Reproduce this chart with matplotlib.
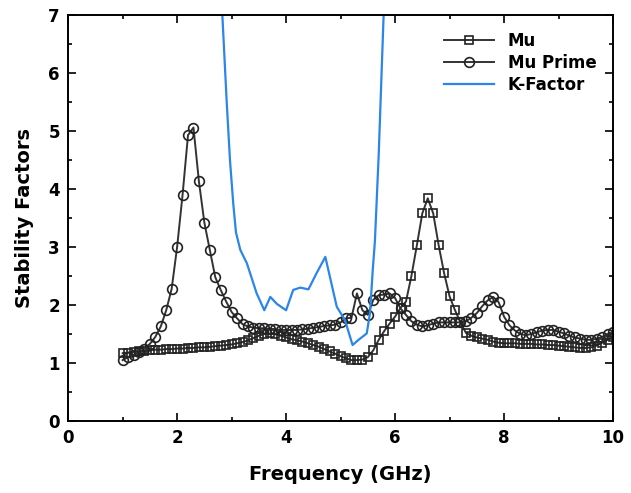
import matplotlib
matplotlib.use("Agg")
import matplotlib.pyplot as plt
import numpy as np
from matplotlib.ticker import MultipleLocator

# frequency grid of the Mu / Mu Prime sweeps (GHz)
freq = np.round(np.arange(1.0, 10.05, 0.1), 1)

mu = [1.17, 1.18, 1.19, 1.20, 1.21, 1.22, 1.23, 1.23, 1.24, 1.24,
      1.25, 1.25, 1.26, 1.26, 1.27, 1.27, 1.28, 1.29, 1.30, 1.31,
      1.32, 1.34, 1.36, 1.39, 1.43, 1.47, 1.50, 1.51, 1.50, 1.47,
      1.44, 1.41, 1.39, 1.37, 1.34, 1.31, 1.28, 1.24, 1.20, 1.16,
      1.12, 1.08, 1.05, 1.05, 1.06, 1.10, 1.22, 1.40, 1.55, 1.68,
      1.80, 1.95, 2.06, 2.50, 3.03, 3.58, 3.84, 3.58, 3.03, 2.55,
      2.15, 1.91, 1.70, 1.52, 1.47, 1.44, 1.42, 1.40, 1.37, 1.35,
      1.34, 1.34, 1.34, 1.33, 1.33, 1.33, 1.32, 1.32, 1.31, 1.31,
      1.30, 1.29, 1.28, 1.27, 1.26, 1.26, 1.27, 1.30, 1.35, 1.40,
      1.45]

mu_prime = [1.05, 1.10, 1.14, 1.19, 1.25, 1.33, 1.45, 1.63, 1.91, 2.28,
            3.00, 3.90, 4.93, 5.06, 4.13, 3.42, 2.95, 2.48, 2.26, 2.06,
            1.88, 1.77, 1.67, 1.63, 1.61, 1.60, 1.60, 1.59, 1.58, 1.57,
            1.57, 1.57, 1.57, 1.58, 1.59, 1.61, 1.62, 1.64, 1.65, 1.66,
            1.70, 1.77, 1.78, 2.20, 1.91, 1.83, 2.09, 2.17, 2.18, 2.20,
            2.12, 1.94, 1.83, 1.72, 1.66, 1.63, 1.65, 1.68, 1.70, 1.70,
            1.70, 1.70, 1.70, 1.72, 1.78, 1.86, 1.98, 2.08, 2.14, 2.05,
            1.80, 1.65, 1.56, 1.50, 1.48, 1.50, 1.53, 1.56, 1.57, 1.57,
            1.54, 1.51, 1.47, 1.44, 1.42, 1.40, 1.40, 1.42, 1.45, 1.50,
            1.54]

k_freq = [2.75, 2.83, 2.91, 2.97, 3.03, 3.08, 3.16, 3.28, 3.46, 3.60,
          3.71, 3.83, 4.00, 4.13, 4.26, 4.41, 4.56, 4.72, 4.93, 5.08,
          5.22, 5.33, 5.48, 5.54, 5.59, 5.63, 5.70, 5.79, 5.86]
k_factor = [9.0, 7.0, 5.5, 4.5, 3.75, 3.25, 2.95, 2.72, 2.20, 1.91,
            2.14, 2.02, 1.91, 2.26, 2.30, 2.27, 2.55, 2.83, 1.97, 1.74,
            1.31, 1.40, 1.51, 1.86, 2.60, 3.10, 4.60, 7.0, 9.0]

plt.rcParams['font.family'] = 'DejaVu Sans'
plt.rcParams['font.weight'] = 'bold'

fig = plt.figure(figsize=(6.31, 4.93), dpi=100)
ax = fig.add_axes([0.108, 0.146, 0.8635, 0.8236])

line_col = '#333333'
ax.plot(freq, mu, color=line_col, lw=1.4, marker='s', ms=6, mfc='none',
        mec='#222222', mew=1.2, label='Mu')
ax.plot(freq, mu_prime, color=line_col, lw=1.4, marker='o', ms=7, mfc='none',
        mec='#222222', mew=1.2, label='Mu Prime')
ax.plot(k_freq, k_factor, color='#2a86e8', lw=1.6, label='K-Factor')

ax.set_xlim(0, 10)
ax.set_ylim(0, 7)
ax.xaxis.set_major_locator(MultipleLocator(2))
ax.xaxis.set_minor_locator(MultipleLocator(1))
ax.yaxis.set_major_locator(MultipleLocator(1))
ax.yaxis.set_minor_locator(MultipleLocator(0.5))
ax.tick_params(which='both', direction='in', top=True, right=True, width=1.2)
ax.tick_params(which='major', length=6, labelsize=12, pad=6)
ax.tick_params(which='minor', length=3)
for s in ax.spines.values():
    s.set_linewidth(1.4)

ax.set_xlabel('Frequency (GHz)', fontsize=14, fontweight='bold', labelpad=13)
ax.set_ylabel('Stability Factors', fontsize=14, fontweight='bold', labelpad=10)

leg = ax.legend(loc='upper right', frameon=False, prop={'size': 12, 'weight': 'bold'},
                handlelength=3, borderaxespad=0.6, labelspacing=0.25)

plt.savefig('out.png', dpi=100)
